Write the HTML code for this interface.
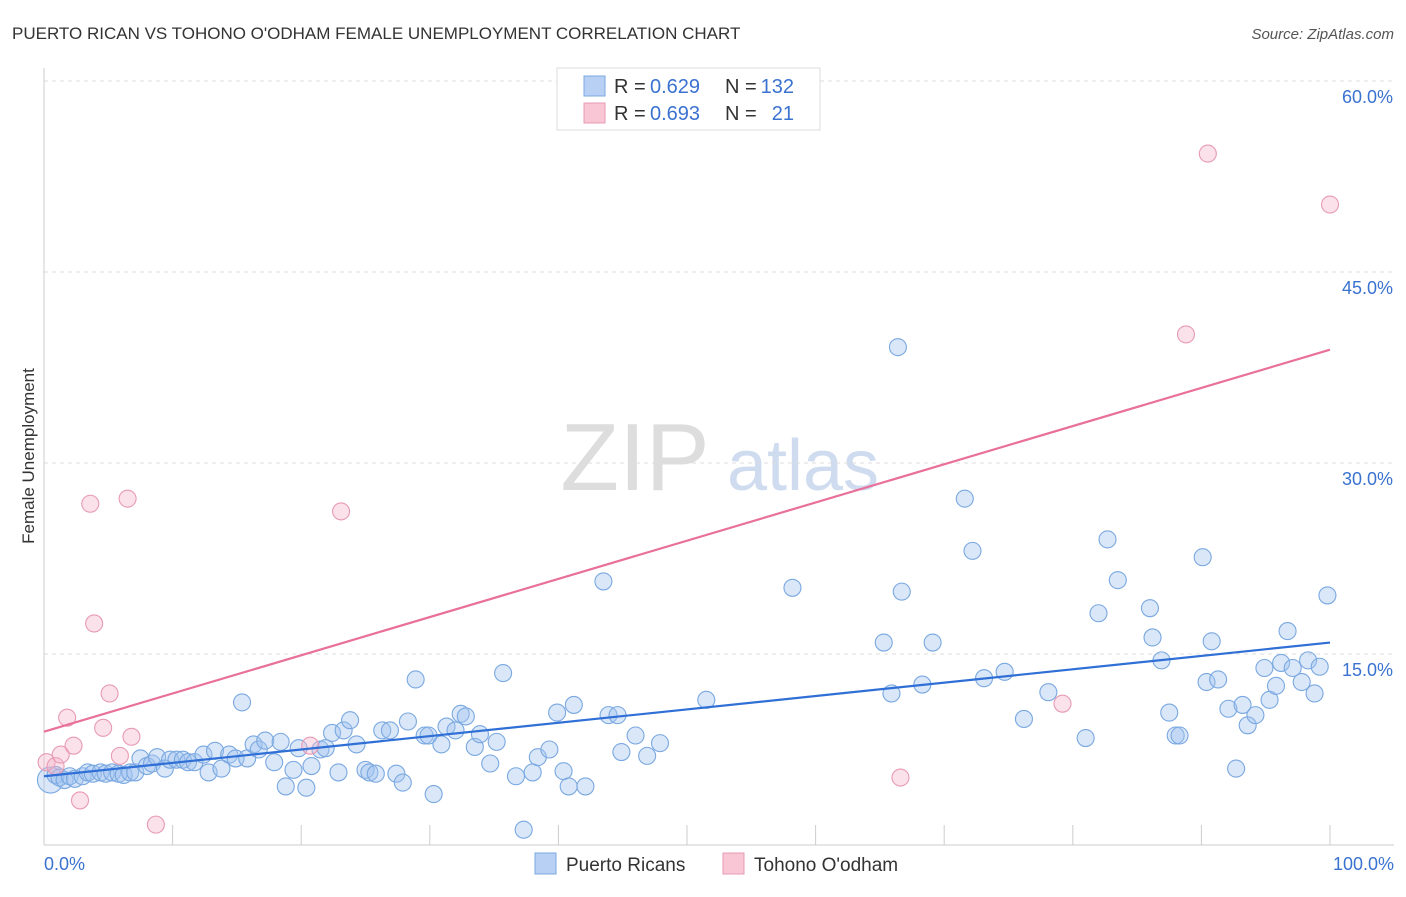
<!DOCTYPE html>
<html><head><meta charset="utf-8"><style>
body{margin:0;background:#fff;font-family:"Liberation Sans",sans-serif;}
svg text{font-family:"Liberation Sans",sans-serif;}
</style></head><body>
<svg id="chart" width="1406" height="892">
<text x="12" y="39" font-size="17" fill="#333">PUERTO RICAN VS TOHONO O'ODHAM FEMALE UNEMPLOYMENT CORRELATION CHART</text>
<text x="1394" y="39" font-size="15" fill="#555" font-style="italic" text-anchor="end">Source: ZipAtlas.com</text>
<text x="34" y="456" font-size="17" fill="#333" text-anchor="middle" transform="rotate(-90 34 456)">Female Unemployment</text>
<g><text x="635" y="490" font-size="96" fill="#ddd" font-family="Liberation Serif" text-anchor="middle">ZIP</text><text x="803" y="490" font-size="72" fill="#cfdcef" text-anchor="middle">atlas</text></g>
<g id="grid"></g><g id="marks"></g>
<g>
<rect x="557" y="68" width="263" height="62" fill="#fff" stroke="#ddd"/>
<rect x="584" y="76" width="21" height="20" fill="#b8d0f4" stroke="#7aa8e0"/>
<rect x="584" y="103" width="21" height="20" fill="#f8c6d4" stroke="#e89ab5"/>
<text x="614" y="93" font-size="20" fill="#333">R =</text>
<text x="650" y="93" font-size="20" fill="#3a72d0">0.629</text>
<text x="725" y="93" font-size="20" fill="#333">N =</text>
<text x="794" y="93" font-size="20" fill="#3a72d0" text-anchor="end">132</text>
<text x="614" y="120" font-size="20" fill="#333">R =</text>
<text x="650" y="120" font-size="20" fill="#3a72d0">0.693</text>
<text x="725" y="120" font-size="20" fill="#333">N =</text>
<text x="794" y="120" font-size="20" fill="#3a72d0" text-anchor="end">21</text>
</g>
<g>
<rect x="535" y="853" width="21" height="21" fill="#b8d0f4" stroke="#7aa8e0"/>
<text x="566" y="871" font-size="19" fill="#333">Puerto Ricans</text>
<rect x="723" y="853" width="21" height="21" fill="#f8c6d4" stroke="#e89ab5"/>
<text x="754" y="871" font-size="19" fill="#333">Tohono O'odham</text>
</g>
</svg>
<script>
const yTicks=[15,30,45,60];
const xTickLabels=["0.0%","100.0%"];
const blueX=[0.5,0.9,1.2,1.6,2.0,2.4,3.0,3.4,3.8,4.4,4.8,5.3,5.8,6.2,6.7,7.1,7.5,8.0,8.4,8.8,9.4,9.8,10.3,10.8,11.2,11.7,12.4,12.8,13.3,13.8,14.4,14.9,15.4,15.8,16.3,16.7,17.2,17.9,18.4,18.8,19.4,19.8,20.4,20.8,21.5,21.9,22.4,22.9,23.3,23.8,24.3,25.0,25.3,25.8,26.3,26.9,27.4,27.9,28.3,28.9,29.6,29.9,30.3,30.9,31.3,32.0,32.4,32.8,33.5,33.9,34.7,35.2,35.7,36.7,37.3,38.0,38.4,39.3,39.9,40.4,40.8,41.2,42.1,43.5,43.9,44.6,44.9,46.0,46.9,47.9,51.5,58.2,65.3,65.9,66.4,66.7,68.3,69.1,71.6,72.2,73.1,74.7,76.2,78.1,81.0,82.0,82.7,83.5,86.0,86.2,86.9,87.5,88.0,88.3,90.1,90.4,90.8,91.3,92.1,92.7,93.2,93.6,94.2,94.9,95.3,95.8,96.2,96.7,97.1,97.8,98.3,98.8,99.2,99.8];
const blueY=[5.1,5.5,5.3,5.1,5.4,5.2,5.4,5.7,5.6,5.7,5.6,5.7,5.6,5.5,5.7,5.7,6.8,6.2,6.4,6.9,6.0,6.7,6.7,6.7,6.5,6.5,7.1,5.7,7.4,6.0,7.1,6.8,11.2,6.8,7.9,7.5,8.2,6.5,8.1,4.6,5.9,7.6,4.5,6.2,7.5,7.6,8.8,5.7,9.0,9.8,7.9,5.9,5.7,5.6,9.0,9.0,5.6,4.9,9.7,13.0,8.6,8.6,4.0,7.9,9.3,9.0,10.3,10.1,7.7,8.7,6.4,8.1,13.5,5.4,1.2,5.7,6.9,7.5,10.4,5.8,4.6,11.0,4.6,20.7,10.2,10.2,7.3,8.6,7.0,8.0,11.4,20.2,15.9,11.9,39.1,19.9,12.6,15.9,27.2,23.1,13.1,13.6,9.9,12.0,8.4,18.2,24.0,20.8,18.6,16.3,14.5,10.4,8.6,8.6,22.6,12.8,16.0,13.0,10.7,6.0,11.0,9.4,10.2,13.9,11.4,12.5,14.3,16.8,13.9,12.8,14.5,11.9,14.0,19.6];
const pinkX=[0.2,0.9,1.3,1.8,2.3,2.8,3.6,3.9,4.6,5.1,5.9,6.5,6.8,8.7,20.7,23.1,66.6,79.2,88.8,90.5,100];
const pinkY=[6.5,6.2,7.1,10.0,7.8,3.5,26.8,17.4,9.2,11.9,7.0,27.2,8.5,1.6,7.8,26.2,5.3,11.1,40.1,54.3,50.3];
const blueTrend=[5.4,15.9];
const pinkTrend=[8.9,38.9];
const NS="http://www.w3.org/2000/svg";
const X0=44,X1=1330,Y0=845,YS=12.733;
function sx(v){return X0+(X1-X0)*v/100;}
function sy(v){return Y0-v*YS;}
function mk(t,a,p){const e=document.createElementNS(NS,t);for(const k in a)e.setAttribute(k,a[k]);p.appendChild(e);return e;}
const grid=document.getElementById('grid'),marks=document.getElementById('marks');
yTicks.forEach(t=>{
 const l=mk('line',{x1:X0,x2:1394,y1:sy(t),y2:sy(t),stroke:'#ddd','stroke-dasharray':'4,4'},grid);
 
 
 const tx=mk('text',{x:1393,y:sy(t)+22,'font-size':18,fill:'#3a72d0','text-anchor':'end'},grid);
 tx.textContent=t.toFixed(1)+'%';
 
 
});
const ya=mk('line',{x1:X0,x2:X0,y1:68,y2:Y0,stroke:'#ccc'},grid);


const xa=mk('line',{x1:X0,x2:1394,y1:Y0,y2:Y0,stroke:'#ccc'},grid);


for(let i=0;i<=10;i++){const t=mk('line',{x1:sx(i*10),x2:sx(i*10),y1:Y0,y2:Y0-20,stroke:'#ccc'},grid);
 
 }
xTickLabels.forEach((s,i)=>{const t=mk('text',{x:i?1394:44,y:870,'font-size':18,fill:'#3a72d0','text-anchor':i?'end':'start'},grid);t.textContent=s;
 
 });
blueX.forEach((x,i)=>{const c=mk('circle',{cx:sx(x),cy:sy(blueY[i]),r:i===0?13:8.5,fill:'rgba(160,195,240,0.4)',stroke:'#7aa8e0','stroke-width':1.1},marks);
 
 });
pinkX.forEach((x,i)=>{const c=mk('circle',{cx:sx(x),cy:sy(pinkY[i]),r:8.5,fill:'rgba(246,180,200,0.4)',stroke:'#e89ab5','stroke-width':1.1},marks);
 
 });
const bl=mk('line',{x1:sx(0),y1:sy(blueTrend[0]),x2:sx(100),y2:sy(blueTrend[1]),stroke:'#2f6fd6','stroke-width':2.2},marks);


const pl=mk('line',{x1:sx(0),y1:sy(pinkTrend[0]),x2:sx(100),y2:sy(pinkTrend[1]),stroke:'#e8709a','stroke-width':2.2},marks);


</script>
</body></html>
